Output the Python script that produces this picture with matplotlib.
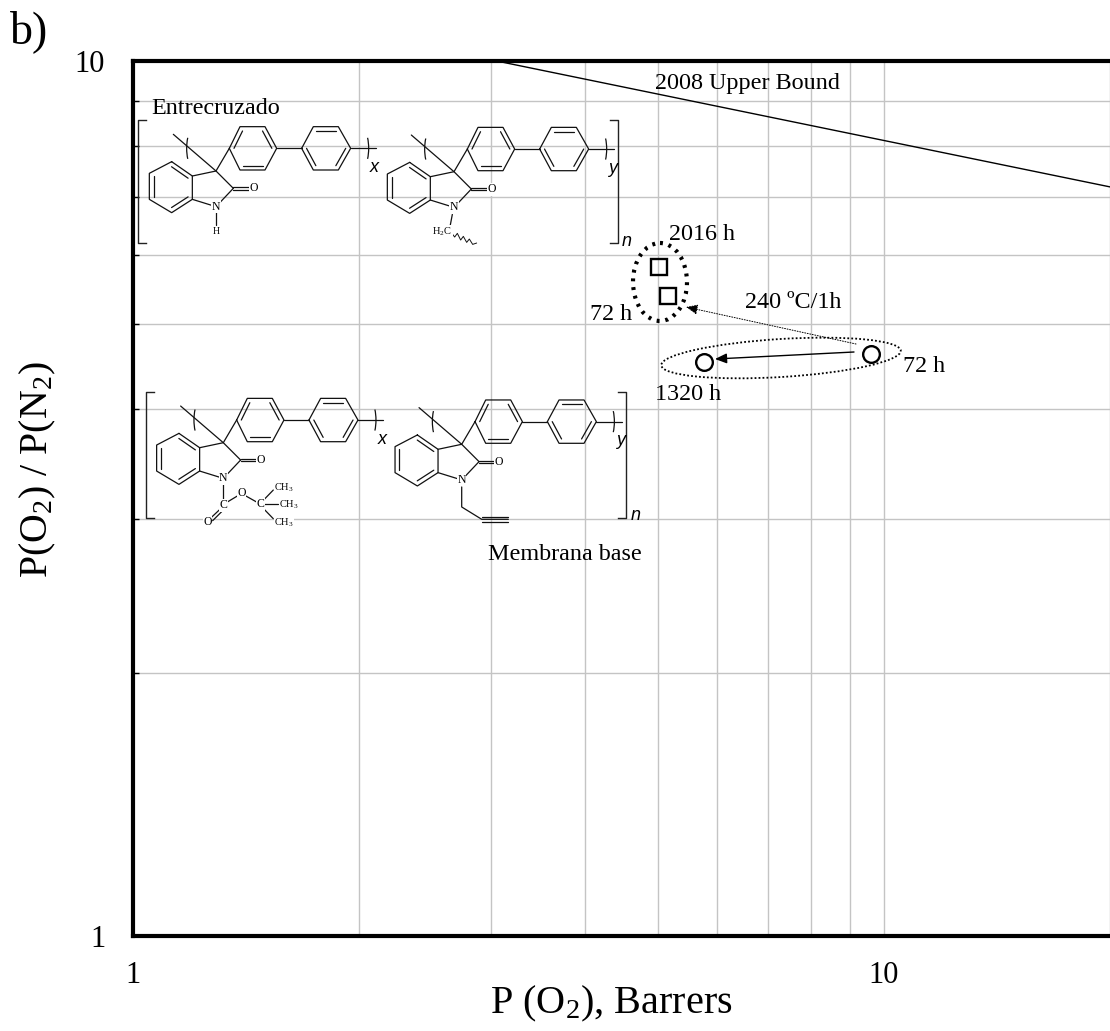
import matplotlib
matplotlib.use("Agg")
import matplotlib.pyplot as plt
from matplotlib.patches import Ellipse, Arc
from matplotlib.ticker import LogLocator, NullFormatter, FixedFormatter, FixedLocator

plt.rcParams['font.family'] = ['Liberation Serif', 'DejaVu Serif']
plt.rcParams['mathtext.fontset'] = 'custom'
plt.rcParams['mathtext.rm'] = 'Liberation Serif'
plt.rcParams['mathtext.it'] = 'Liberation Serif:italic'
plt.rcParams['mathtext.default'] = 'rm'

# values
square_x = [5.01, 5.15]
square_y = [5.82, 5.39]
circle_x = [5.76, 9.60]
circle_y = [4.53, 4.62]
bound_x = [3.05, 20]
bound_y = [10, 7.18]
x_limits = [1, 20]
y_limits = [1, 10]
major_ticks = [1, 10]
major_labels = ['1', '10']

W, H = 1110, 1031
fig = plt.figure(figsize=(W / 100, H / 100), dpi=100)
ax = fig.add_axes([133 / W, (H - 936) / H, (W - 133) / W, 875 / H])
ax.set_xscale('log')
ax.set_yscale('log')
ax.set_xlim(x_limits)
ax.set_ylim(y_limits)

# grid and frame
ax.grid(True, which='both', color='#c4c4c4', lw=1.0)
ax.set_axisbelow(True)
ax.spines['right'].set_visible(False)
for side in ['left', 'bottom', 'top']:
    ax.spines[side].set_linewidth(3.0)
for axis in [ax.xaxis, ax.yaxis]:
    axis.set_major_locator(FixedLocator(major_ticks))
    axis.set_major_formatter(FixedFormatter(major_labels))
    axis.set_minor_locator(LogLocator(base=10, subs=range(2, 10)))
    axis.set_minor_formatter(NullFormatter())
ax.tick_params(axis='x', which='major', length=0, pad=18, labelsize=22)
ax.tick_params(axis='y', which='major', length=0, pad=20, labelsize=22)
ax.tick_params(axis='x', which='minor', length=0)
ax.tick_params(axis='y', which='minor', length=4, width=1.0, direction='in')

ax.plot(bound_x, bound_y, color='black', lw=1.0)
ax.plot(square_x, square_y, ls='none', marker='s', ms=12, mfc='none', mec='black', mew=1.7, zorder=4)
ax.plot(circle_x, circle_y, ls='none', marker='o', ms=12, mfc='none', mec='black', mew=1.7, zorder=4)

# overlay in pixel coordinates for labels and the chemical drawings
ov = fig.add_axes([0, 0, 1, 1], facecolor='none')
ov.set_xlim(0, W)
ov.set_ylim(H, 0)
ov.axis('off')

ov.text(10, 32, 'b)', fontsize=33, va='center', ha='left')
ov.text(611, 1004, 'P (O$_2$), Barrers', fontsize=29, ha='center', va='center')
ov.text(38, 470, 'P(O$_2$) / P(N$_2$)', fontsize=28.7, rotation=90, ha='center', va='center')

ov.text(655, 83, '2008 Upper Bound', fontsize=17.4, va='center')
ov.text(151, 108, 'Entrecruzado', fontsize=17.4, va='center')
ov.text(488, 555, 'Membrana base', fontsize=17.4, va='center')
ov.text(669, 234, '2016 h', fontsize=17.4, va='center')
ov.text(590, 314, '72 h', fontsize=17.4, va='center')
ov.text(745, 302, '240 ºC/1h', fontsize=17.4, va='center')
ov.text(903, 366, '72 h', fontsize=17.4, va='center')
ov.text(655, 395, '1320 h', fontsize=17.4, va='center')

ov.add_patch(Ellipse((660, 282), 54, 78, fill=False, ec='black', lw=3.0, ls=(0, (0.7, 1.4))))
ov.add_patch(Ellipse((781, 358), 240, 38, angle=-3.5, fill=False, ec='black', lw=1.3, ls=(0, (1, 1.2))))
ov.annotate('', xy=(715, 359), xytext=(854, 352),
            arrowprops=dict(arrowstyle='-|>,head_length=0.7,head_width=0.3', color='black', lw=1.0, shrinkA=0, shrinkB=0))
ov.annotate('', xy=(686, 307), xytext=(856, 344),
            arrowprops=dict(arrowstyle='-|>,head_length=0.7,head_width=0.3', color='black', lw=0.7, ls=':', shrinkA=0, shrinkB=0))


def seg(pts, ox, oy, lw=0.9):
    # pts are in 3x zoom units relative to the quaternary carbon
    ov.plot([ox + p[0] / 3 for p in pts], [oy + p[1] / 3 for p in pts], color='#111111', lw=lw, solid_capstyle='round')


def ring(pts, doubles, ox, oy):
    seg(pts + [pts[0]], ox, oy)
    cx = sum(p[0] for p in pts) / 6
    cy = sum(p[1] for p in pts) / 6
    for i in doubles:
        a, b = pts[i], pts[(i + 1) % 6]
        a2 = (a[0] + (cx - a[0]) * 0.2, a[1] + (cy - a[1]) * 0.2)
        b2 = (b[0] + (cx - b[0]) * 0.2, b[1] + (cy - b[1]) * 0.2)
        seg([a2, b2], ox, oy)


def label(x, y, s, ox, oy, size=8.5):
    ov.text(ox + x / 3, oy + y / 3, s, fontsize=size, ha='center', va='center',
            bbox=dict(fc='white', ec='none', pad=0.3))


def unit(ox, oy, tag):
    benzene = [(-133, -28), (-71, 15), (-71, 85), (-133, 125), (-200, 85), (-200, 7)]
    ring(benzene, [0, 2, 4], ox, oy)
    seg([(-71, 15), (0, 0), (52, 52)], ox, oy)
    seg([(-71, 85), (0, 107), (52, 52)], ox, oy)
    seg([(52, 49), (98, 49)], ox, oy)
    seg([(52, 56), (98, 56)], ox, oy)
    label(112, 52, 'O', ox, oy)
    label(0, 107, 'N', ox, oy)
    seg([(-128, -110), (0, 0), (40, -68)], ox, oy)
    ring([(40, -68), (72, -133), (147, -133), (182, -68), (147, -3), (72, -3)], [0, 2, 4], ox, oy)
    seg([(182, -68), (257, -68)], ox, oy)
    ring([(257, -68), (292, -133), (367, -133), (404, -68), (367, -3), (292, -3)], [1, 3, 5], ox, oy)
    seg([(404, -68), (480, -68)], ox, oy)
    ov.add_patch(Arc((ox - 70 / 3, oy - 68 / 3), 36 / 3, 110 / 3, theta1=115, theta2=245, color='#111111', lw=0.9))
    ov.add_patch(Arc((ox + 440 / 3, oy - 68 / 3), 36 / 3, 110 / 3, theta1=-65, theta2=65, color='#111111', lw=0.9))
    ov.text(ox + 476 / 3, oy - 10 / 3, tag, fontsize=13, style='italic', family='Liberation Sans', ha='center', va='center')


def bracket(x0, x1, y0, y1, tip):
    ov.plot([x0 + tip, x0, x0, x0 + tip], [y0, y0, y1, y1], color='#222222', lw=1.0)
    ov.plot([x1 - tip, x1, x1, x1 - tip], [y0, y0, y1, y1], color='#222222', lw=1.0)


# top structure (Entrecruzado)
unit(216, 171, 'x')
seg([(0, 122), (0, 162)], 216, 171)
label(0, 182, 'H', 216, 171, 7)
unit(454, 171.7, 'y')
seg([(-5, 128), (-12, 165)], 454, 171.7)
label(-35, 180, 'H$_2$C', 454, 171.7, 7.5)
seg([(-8, 183), (2, 196), (10, 185), (20, 205), (28, 194), (38, 212), (46, 202), (56, 218), (68, 214)], 454, 171.7, 0.7)
bracket(138, 618, 120, 243, 8)
ov.text(627, 241, 'n', fontsize=13, style='italic', family='Liberation Sans', ha='center', va='center')

# bottom structure (Membrana base)
unit(223.3, 442.7, 'x')
seg([(0, 125), (0, 175)], 223.3, 442.7)
label(0, 187, 'C', 223.3, 442.7)
seg([(-8, 198), (-40, 228)], 223.3, 442.7)
seg([(0, 202), (-32, 234)], 223.3, 442.7)
label(-48, 239, 'O', 223.3, 442.7)
seg([(12, 178), (42, 160)], 223.3, 442.7)
label(55, 152, 'O', 223.3, 442.7)
seg([(68, 160), (100, 178)], 223.3, 442.7)
label(112, 185, 'C', 223.3, 442.7)
seg([(118, 175), (150, 142)], 223.3, 442.7)
seg([(122, 185), (165, 185)], 223.3, 442.7)
seg([(118, 195), (150, 228)], 223.3, 442.7)
label(182, 134, 'CH$_3$', 223.3, 442.7, 7.5)
label(198, 187, 'CH$_3$', 223.3, 442.7, 7.5)
label(182, 239, 'CH$_3$', 223.3, 442.7, 7.5)
unit(461.7, 444.3, 'y')
seg([(0, 128), (0, 188), (60, 225), (140, 225)], 461.7, 444.3)
seg([(62, 217), (140, 217)], 461.7, 444.3)
seg([(62, 233), (140, 233)], 461.7, 444.3)
bracket(146, 626, 392, 517.5, 8)
ov.text(636, 515, 'n', fontsize=13, style='italic', family='Liberation Sans', ha='center', va='center')

fig.savefig('out.png', dpi=100)
